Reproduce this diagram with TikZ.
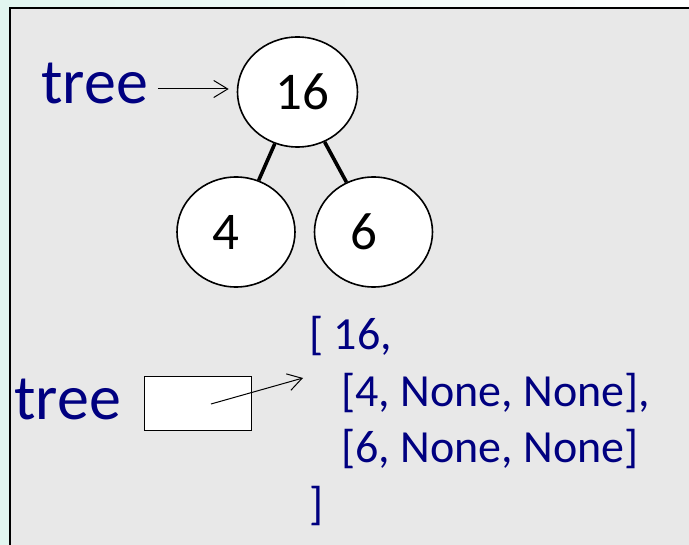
\documentclass[tikz,border=0pt]{standalone}
\usepackage{fontspec}
\setmainfont{Carlito}
\usetikzlibrary{shapes.geometric,arrows.meta,calc}
\definecolor{mint}{RGB}{226,246,240}
\definecolor{panel}{RGB}{232,232,232}
\definecolor{ink}{RGB}{0,0,128}
\tikzset{
  treenode/.style={draw, ellipse, fill=white, line width=1.6pt, inner sep=0pt,
    minimum width=118pt, minimum height=110pt, font=\fontsize{53}{53}\selectfont},
  edge/.style={line width=3.6pt},
  label/.style={text=ink, inner sep=0pt, anchor=base west},
  biglabel/.style={label, font=\fontsize{64}{64}\selectfont},
  listline/.style={label, font=\fontsize{46}{46}\selectfont},
  pointer/.style={line width=1pt, -{Straight Barb[length=14pt,width=17pt,line width=1pt]}},
  cell/.style={draw, fill=white, line width=1pt, minimum width=107pt, minimum height=54pt, inner sep=0pt}
}
\begin{document}
\begin{tikzpicture}[x=1pt, y=-1pt]
  \useasboundingbox (0,0) rectangle (689,545);
  \clip (0,0) rectangle (689,545);
  % page background and panel
  \shade[left color=mint, right color=white] (0,0) rectangle (689,545);
  \draw[fill=panel, line width=1.5pt] (10,8) rectangle (710,570);

  % the tree
  \node[treenode, minimum width=120pt] (n16) at (297.5,92) {\kern10pt16};
  \node[treenode] (n4) at (236,232) {4\kern20pt};
  \node[treenode] (n6) at (373.5,232) {6\kern20pt};
  \draw[edge] (n16) -- (n4);
  \draw[edge] (n16) -- (n6);

  % name bound to the root node
  \node[biglabel] (treeA) at (41,104) {tree};
  \coordinate (tipA) at ($(n16.west)+(-8,-3)$);
  \draw[pointer] ($(treeA.east |- tipA)+(10,0)$) -- (tipA);

  % name bound to a variable box pointing at the nested list
  \node[biglabel] (treeB) at (14,420) {tree};
  \node[cell] (box) at (197.5,404) {};
  \coordinate (ptrStart) at ($(box.center)+(13.5,0)$);
  \coordinate (ptrEnd) at (303,378);
  \draw[pointer] (ptrStart) -- (ptrEnd);

  \node[listline] (l1) at (309,350) {[ 16,};
  \node[listline] (l2) at (341,407) {[4, None, None],};
  \node[listline] (l3) at (341,463) {[6, None, None]};
  \node[listline] (l4) at (309,520) {]};
\end{tikzpicture}
\end{document}
